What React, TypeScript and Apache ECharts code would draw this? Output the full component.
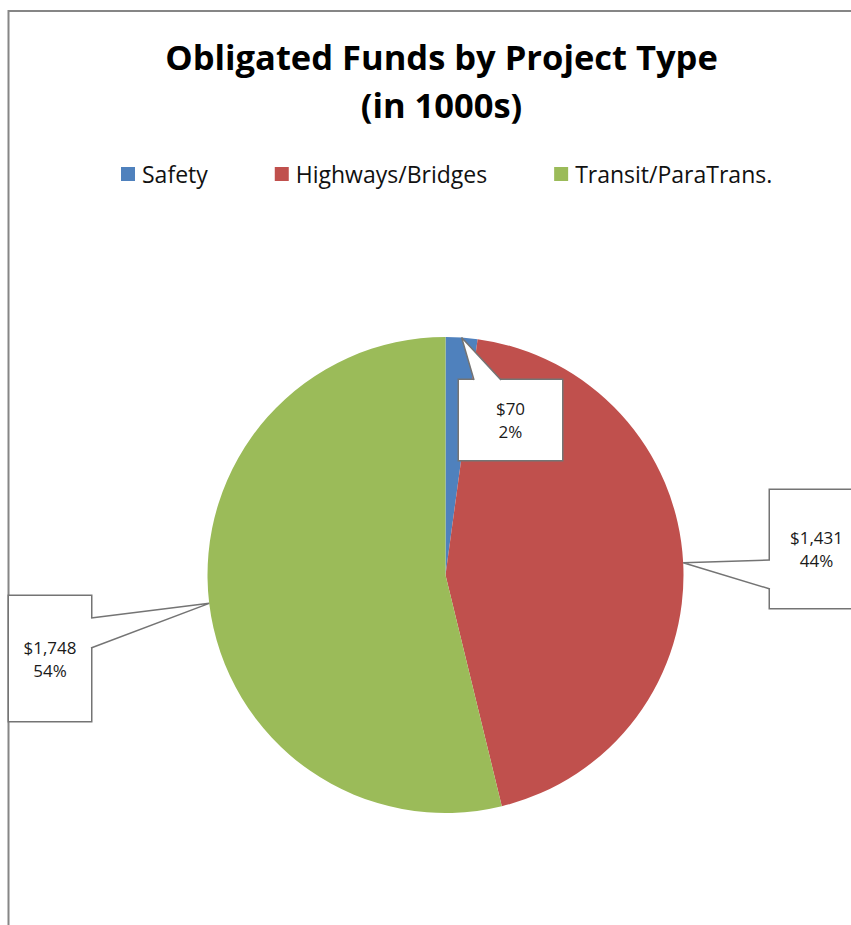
import React, { useEffect, useRef } from "react";
import * as echarts from "echarts";

// ---- data ----
const categories = ["Safety", "Highways/Bridges", "Transit/ParaTrans."];
const values = [70, 1431, 1748];
const titleLines = ["Obligated Funds by Project Type", "(in 1000s)"];

// ---- style / layout ----
const colors = ["#4F81BD", "#C0504D", "#9BBB59"];
const FONT = "'Open Sans', 'DejaVu Sans', sans-serif";
const PIE_CX = 445.5;
const PIE_CY = 575;
const PIE_R = 238;
const LINE_H = 23;

// callout box layout (center, size) and the edge on which the wedge starts
const calloutBoxes = [
  { x: 510.5, y: 420, w: 103, h: 80, base: [[474, 380], [501, 380]], inward: [0, 2] },
  { x: 816.5, y: 549, w: 93, h: 118, base: [[770, 560], [770, 589]], inward: [2, 0] },
  { x: 50, y: 658.5, w: 82, h: 125, base: [[91, 618], [91, 648]], inward: [-2, 0] },
];

function fmtMoney(v: number) {
  return "$" + v.toLocaleString("en-US");
}

export default function App() {
  const ref = useRef<HTMLDivElement>(null);

  useEffect(() => {
    if (!ref.current) return;
    const chart = echarts.init(ref.current, null, { renderer: "svg" });

    const total = values.reduce((a, b) => a + b, 0);
    let cum = 0;
    const tips = values.map((v) => {
      const mid = ((cum + v / 2) / total) * Math.PI * 2;
      cum += v;
      return [PIE_CX + PIE_R * Math.sin(mid), PIE_CY - PIE_R * Math.cos(mid)];
    });

    const wedges = calloutBoxes.map((b, i) => {
      const [a, c] = b.base;
      const tip = tips[i];
      const ain = [a[0] + b.inward[0], a[1] + b.inward[1]];
      const cin = [c[0] + b.inward[0], c[1] + b.inward[1]];
      return {
        type: "group",
        z: 10,
        children: [
          {
            type: "polygon",
            z: 10,
            shape: { points: [ain, a, tip, c, cin] },
            style: { fill: "#ffffff", stroke: "none" },
            silent: true,
          },
          {
            type: "polyline",
            z: 11,
            shape: { points: [a, tip, c] },
            style: { stroke: "#747474", lineWidth: 1.5, fill: "none" },
            silent: true,
          },
        ],
      };
    });

    const data = categories.map((name, i) => ({
      name,
      value: values[i],
      itemStyle: { color: colors[i] },
      label: {
        width: calloutBoxes[i].w,
        padding: [(calloutBoxes[i].h - 2 * LINE_H) / 2, 0],
      },
    }));

    chart.setOption({
      animation: false,
      backgroundColor: "#ffffff",
      title: {
        text: titleLines.join("\n"),
        left: 436.5,
        textAlign: "center",
        top: 27,
        textStyle: {
          fontFamily: FONT,
          fontWeight: "bold",
          fontSize: 34.5,
          lineHeight: 48,
          color: "#000000",
        },
      },
      legend: {
        left: 116,
        top: 157,
        icon: "rect",
        itemWidth: 14,
        itemHeight: 14,
        itemGap: 67,
        data: categories,
        textStyle: {
          fontFamily: FONT,
          fontSize: 23,
          lineHeight: 24,
          color: "#111111",
          padding: [0, 0, 0, 2],
        },
      },
      graphic: [
        {
          type: "rect",
          z: -1,
          silent: true,
          shape: { x: 8.5, y: 11, width: 1000, height: 1000 },
          style: { fill: "none", stroke: "#868686", lineWidth: 2 },
        },
        ...wedges,
      ],
      series: [
        {
          type: "pie",
          center: [PIE_CX, PIE_CY],
          radius: PIE_R,
          startAngle: 90,
          clockwise: true,
          avoidLabelOverlap: false,
          itemStyle: { borderWidth: 0 },
          emphasis: { disabled: true },
          labelLine: { show: false },
          label: {
            show: true,
            position: "outside",
            formatter: (p: any) =>
              fmtMoney(p.value) + "\n" + Math.round(p.percent) + "%",
            fontFamily: FONT,
            fontSize: 17,
            lineHeight: LINE_H,
            color: "#1a1a1a",
            align: "center",
            backgroundColor: "#ffffff",
            borderColor: "#747474",
            borderWidth: 1.5,
          },
          labelLayout: (params: any) => {
            const b = calloutBoxes[params.dataIndex];
            return { x: b.x, y: b.y, align: "center", verticalAlign: "middle", hideOverlap: false };
          },
          data,
        },
      ],
    });

    return () => chart.dispose();
  }, []);

  return (
    <div
      ref={ref}
      style={{ position: "absolute", left: 0, top: 0, width: 851, height: 925 }}
    />
  );
}
